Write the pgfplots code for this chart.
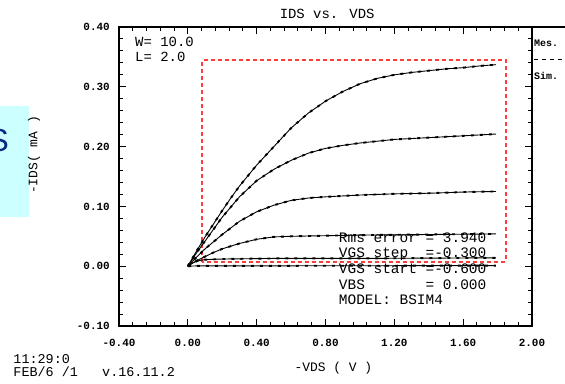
\documentclass[border=0pt]{standalone}
\usepackage{fontspec}
\setmainfont{Liberation Mono}
\newfontfamily\sansS{Liberation Sans}
\usepackage{pgfplots}
\usepackage{pgfplotstable}
\pgfplotsset{compat=1.18}
\definecolor{dashred}{RGB}{255,60,60}
\definecolor{slidecyan}{RGB}{204,255,255}
\definecolor{slideblue}{RGB}{10,40,130}

\pgfplotstableread{
v i
0 0
0.05 0.025
0.1 0.049
0.15 0.071
0.2 0.093
0.25 0.114
0.3 0.134
0.4 0.169
0.5 0.200
0.6 0.231
0.7 0.256
0.8 0.276
0.9 0.292
1.0 0.305
1.1 0.314
1.2 0.320
1.3 0.324
1.4 0.327
1.5 0.330
1.6 0.332
1.7 0.335
1.79 0.337
}\curveA
\pgfplotstableread{
v i
0 0
0.05 0.022
0.1 0.042
0.15 0.062
0.2 0.082
0.25 0.099
0.3 0.116
0.4 0.143
0.5 0.162
0.6 0.177
0.7 0.189
0.8 0.197
0.9 0.202
1.0 0.206
1.2 0.212
1.4 0.215
1.6 0.218
1.79 0.221
}\curveB
\pgfplotstableread{
v i
0 0
0.05 0.015
0.1 0.029
0.15 0.041
0.2 0.053
0.3 0.075
0.4 0.091
0.5 0.102
0.6 0.110
0.7 0.114
0.8 0.116
1.0 0.119
1.2 0.121
1.4 0.122
1.6 0.124
1.79 0.125
}\curveC
\pgfplotstableread{
v i
0 0
0.05 0.009
0.1 0.016
0.15 0.023
0.2 0.029
0.3 0.038
0.4 0.045
0.5 0.049
0.6 0.050
0.8 0.051
1.0 0.052
1.4 0.053
1.79 0.054
}\curveD
\pgfplotstableread{
v i
0 0
0.03 0.006
0.06 0.009
0.1 0.011
0.2 0.012
0.5 0.013
1.0 0.013
1.4 0.0135
1.79 0.014
}\curveE
\pgfplotstableread{
v i
0 0
0.05 0.0005
1.79 0.001
}\curveF

\pgfplotsset{
  sim/.style={black, line width=0.9bp},
  mes/.style={black, line width=1.9bp, dash pattern=on 3bp off 6bp},
}

\begin{document}
\begin{tikzpicture}
\useasboundingbox (-119bp,-58bp) rectangle (446bp,326bp);
\begin{axis}[
  at={(0,0)}, anchor=south west,
  scale only axis, width=413bp, height=299bp,
  xmin=-0.4, xmax=2, ymin=-0.1, ymax=0.4,
  clip=false,
  xtick={-0.4,0,0.4,0.8,1.2,1.6,2.0},
  xticklabels={-0.40,0.00,0.40,0.80,1.20,1.60,2.00},
  ytick={-0.1,0,0.1,0.2,0.3,0.4},
  yticklabels={-0.10,0.00,0.10,0.20,0.30,0.40},
  minor x tick num=4, minor y tick num=4,
  major tick length=7bp, minor tick length=4bp,
  every tick/.style={black, line width=1bp},
  axis line style={line width=1.6bp},
  tick label style={font=\fontsize{11}{12}\bfseries\selectfont, inner sep=0pt},
  xticklabel style={anchor=north, yshift=-13bp},
  yticklabel style={anchor=east, xshift=-9bp},
]
% slide remnant on the left
\fill[slidecyan] (axis cs:-1.1,0.268) rectangle (axis cs:-0.922,0.083);
\node[anchor=east, inner sep=0pt, text=slideblue, font=\sansS\fontsize{32}{34}\selectfont] at (axis cs:-1.038,0.21) {S};

% red dashed window
\draw[dashred, line width=2bp, dash pattern=on 4bp off 3bp] (axis cs:0.085,0.0078) rectangle (axis cs:1.847,0.345);

% curves: simulated (solid) and measured (dashed)
\addplot[sim] table[x=v,y=i] {\curveA};
\addplot[mes] table[x=v,y=i] {\curveA};
\addplot[sim] table[x=v,y=i] {\curveB};
\addplot[mes] table[x=v,y=i] {\curveB};
\addplot[sim] table[x=v,y=i] {\curveC};
\addplot[mes] table[x=v,y=i] {\curveC};
\addplot[sim] table[x=v,y=i] {\curveD};
\addplot[mes] table[x=v,y=i] {\curveD};
\addplot[sim] table[x=v,y=i] {\curveE};
\addplot[mes] table[x=v,y=i] {\curveE};
\addplot[sim] table[x=v,y=i] {\curveF};
\addplot[mes] table[x=v,y=i] {\curveF};

% texts
\node[anchor=base west, inner sep=0pt, font=\fontsize{14}{16}\selectfont] at (axis cs:0.533,0.4145) {IDS vs. VDS};
\node[anchor=base west, inner sep=0pt, font=\fontsize{14}{16}\selectfont] at (axis cs:-0.307,0.3667) {W= 10.0};
\node[anchor=base west, inner sep=0pt, font=\fontsize{14}{16}\selectfont] at (axis cs:-0.307,0.3425) {L= 2.0};
\node[anchor=base west, inner sep=0pt, font=\fontsize{14.5}{16}\selectfont] at (axis cs:0.877,0.0395) {Rms~error~=~3.940};
\node[anchor=base west, inner sep=0pt, font=\fontsize{14.5}{16}\selectfont] at (axis cs:0.877,0.0145) {VGS~step~~=-0.300};
\node[anchor=base west, inner sep=0pt, font=\fontsize{14.5}{16}\selectfont] at (axis cs:0.877,-0.0122) {VGS~start~=-0.600};
\node[anchor=base west, inner sep=0pt, font=\fontsize{14.5}{16}\selectfont] at (axis cs:0.877,-0.0383) {VBS~~~~~~~=~0.000};
\node[anchor=base west, inner sep=0pt, font=\fontsize{14.5}{16}\selectfont] at (axis cs:0.877,-0.0633) {MODEL:~BSIM4};

\node[anchor=base, inner sep=0pt, font=\fontsize{13}{15}\selectfont] at (axis cs:0.846,-0.1767) {-VDS ( V )};
\node[anchor=base, rotate=90, inner sep=0pt, font=\fontsize{13}{15}\selectfont] at (axis cs:-0.875,0.186) {-IDS( mA )};

\node[anchor=base west, inner sep=0pt, font=\fontsize{13.5}{15}\selectfont] at (axis cs:-1.0145,-0.1633) {11:29:0};
\node[anchor=base west, inner sep=0pt, font=\fontsize{13.5}{15}\selectfont] at (axis cs:-1.0145,-0.1850) {FEB/6~/1~~~v.16.11.2};

% legend remnant on the right
\draw[black, line width=1.2bp] (axis cs:2.0,0.4) -- (axis cs:2.2,0.4);
\node[anchor=base west, inner sep=0pt, font=\fontsize{10}{12}\bfseries\selectfont] at (axis cs:2.011,0.367) {Mes.};
\draw[black, line width=1bp, dash pattern=on 4bp off 4bp] (axis cs:2.011,0.345) -- (axis cs:2.2,0.345);
\node[anchor=base west, inner sep=0pt, font=\fontsize{10}{12}\bfseries\selectfont] at (axis cs:2.011,0.3117) {Sim.};
\end{axis}
\end{tikzpicture}
\end{document}
